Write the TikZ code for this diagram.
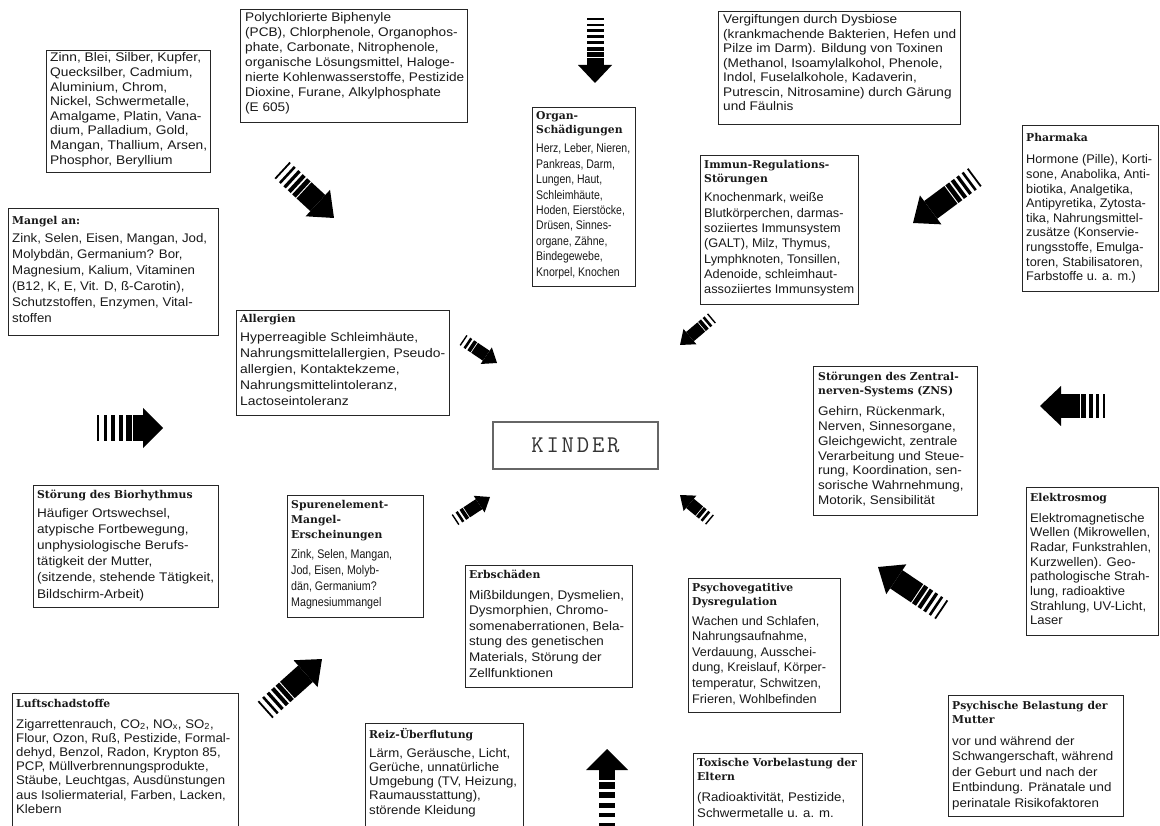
\documentclass[tikz,border=0pt]{standalone}
\usepackage{fontspec}
\usepackage{graphicx}
\setmainfont{Liberation Sans}
\newfontfamily\hfam{DejaVu Serif}
\usetikzlibrary{calc}
\newcommand\vl[1]{\vtop{\let\\\cr\lineskiplimit=-100pt\relax\halign{##\hfil\cr#1\crcr}}}
\newcommand\bodyf[1]{\fontsize{12.5}{#1}\selectfont}
\newcommand\headf[1]{\hfam\bfseries\fontsize{10.8}{#1}\selectfont}
\newcommand\bt[2]{\resizebox{#1pt}{\height}{\vl{#2}}}
\tikzset{
  bx/.style={draw=black!85, line width=0.9pt, inner sep=0pt, anchor=north west, fill=white},
  hd/.style={anchor=base west, inner sep=0pt, text=black!90, font={\headf{14}}},
  bd/.style={anchor=base west, inner sep=0pt, text=black!90},
  arrL/.store in=\arrL, arrHL/.store in=\arrHL, arrHW/.store in=\arrHW,
  arrSW/.store in=\arrSW, arrS/.store in=\arrS, arrN/.store in=\arrN,
  big/.style={arrHL=22, arrHW=18, arrSW=11, arrS=30, arrN=5},
  small/.style={arrHL=13, arrHW=10, arrSW=6, arrS=14, arrN=3},
  sarrow/.pic={
    \pgfmathsetmacro\LL{\arrL}
    \pgfmathsetmacro\hb{\LL-\arrHL}
    \fill[black] (\arrS,-\arrSW) rectangle (\hb,\arrSW);
    \fill[black] (\hb,-\arrHW) -- (\LL,0) -- (\hb,\arrHW) -- cycle;
    \pgfmathtruncatemacro\nm{\arrN-1}
    \pgfmathsetmacro\pp{\arrS/\arrN}
    \foreach \i in {0,...,\nm}{
      \pgfmathsetmacro\aa{\i*\pp}
      \pgfmathsetmacro\bb{\aa+\pp*(0.3+0.5*\i/\nm)}
      \fill[black] (\aa,-\arrSW) rectangle (\bb,\arrSW);
    }
  }
}
\newcommand\sarr[3]{\path let \p1=($(#2)-(#1)$), \n1={atan2(\y1,\x1)}, \n2={veclen(\x1,\y1)} in (#1) pic[rotate=\n1, arrL=\n2, #3] {sarrow};}
\begin{document}
\begin{tikzpicture}[x=1pt, y=-1pt]
\useasboundingbox[fill=white] (0,0) rectangle (1160,826);

% ---------- boxes ----------
\node[bx, minimum width=164, minimum height=122] (metals) at (46,50) {};
\node[bd, font={\bodyf{14.6}}] (metals-b) at ([shift={(4,12)}]metals.north west) {\bt{157}{Zinn, Blei, Silber, Kupfer,\\Quecksilber, Cadmium,\\Aluminium, Chrom,\\Nickel, Schwermetalle,\\Amalgame, Platin, Vana-\\dium, Palladium, Gold,\\Mangan, Thallium, Arsen,\\Phosphor, Beryllium}};

\node[bx, minimum width=227, minimum height=113] (pcb) at (240,9) {};
\node[bd, font={\bodyf{15}}] (pcb-b) at ([shift={(5,13)}]pcb.north west) {\bt{219}{Polychlorierte Biphenyle\\(PCB), Chlorphenole, Organophos-\\phate, Carbonate, Nitrophenole,\\organische Lösungsmittel, Haloge-\\nierte Kohlenwasserstoffe, Pestizide\\Dioxine, Furane, Alkylphosphate\\(E 605)}};

\node[bx, minimum width=103, minimum height=179] (organ) at (532,107) {};
\node[hd] (organ-h) at ([shift={(4,13)}]organ.north west) {\vl{Organ-\\Schädigungen}};
\node[bd, font={\bodyf{15.4}}] (organ-b) at ([shift={(4,46)}]organ.north west) {\bt{94}{Herz, Leber, Nieren,\\Pankreas, Darm,\\Lungen, Haut,\\Schleimhäute,\\Hoden, Eierstöcke,\\Drüsen, Sinnes-\\organe, Zähne,\\Bindegewebe,\\Knorpel, Knochen}};

\node[bx, minimum width=242, minimum height=113] (dysb) at (718,11) {};
\node[bd, font={\bodyf{14.5}}] (dysb-b) at ([shift={(5,13)}]dysb.north west) {\bt{233}{Vergiftungen durch Dysbiose\\(krankmachende Bakterien, Hefen und\\Pilze im Darm). Bildung von Toxinen\\(Methanol, Isoamylalkohol, Phenole,\\Indol, Fuselalkohole, Kadaverin,\\Putrescin, Nitrosamine) durch Gärung\\und Fäulnis}};

\node[bx, minimum width=158, minimum height=149] (immun) at (700,155) {};
\node[hd] (immun-h) at ([shift={(4,14)}]immun.north west) {\vl{Immun-Regulations-\\Störungen}};
\node[bd, font={\bodyf{15.3}}] (immun-b) at ([shift={(4,47)}]immun.north west) {\bt{150}{Knochenmark, weiße\\Blutkörperchen, darmas-\\soziiertes Immunsystem\\(GALT), Milz, Thymus,\\Lymphknoten, Tonsillen,\\Adenoide, schleimhaut-\\assoziiertes Immunsystem}};

\node[bx, minimum width=136, minimum height=166] (pharma) at (1022,125) {};
\node[hd] (pharma-h) at ([shift={(4,17)}]pharma.north west) {\vl{Pharmaka}};
\node[bd, font={\bodyf{14.6}}] (pharma-b) at ([shift={(4,39)}]pharma.north west) {\bt{126}{Hormone (Pille), Korti-\\sone, Anabolika, Anti-\\biotika, Analgetika,\\Antipyretika, Zytosta-\\tika, Nahrungsmittel-\\zusätze (Konservie-\\rungsstoffe, Emulga-\\toren, Stabilisatoren,\\Farbstoffe u. a. m.)}};

\node[bx, minimum width=210, minimum height=127] (mangel) at (8,208) {};
\node[hd] (mangel-h) at ([shift={(4,17)}]mangel.north west) {\vl{Mangel an:}};
\node[bd, font={\bodyf{16}}] (mangel-b) at ([shift={(4,35)}]mangel.north west) {\bt{195}{Zink, Selen, Eisen, Mangan, Jod,\\Molybdän, Germanium? Bor,\\Magnesium, Kalium, Vitaminen\\(B12, K, E, Vit. D, ß-Carotin),\\Schutzstoffen, Enzymen, Vital-\\stoffen}};

\node[bx, minimum width=213, minimum height=105] (allerg) at (236,310) {};
\node[hd] (allerg-h) at ([shift={(4,13)}]allerg.north west) {\vl{Allergien}};
\node[bd, font={\bodyf{16}}] (allerg-b) at ([shift={(4,32)}]allerg.north west) {\bt{205}{Hyperreagible Schleimhäute,\\Nahrungsmittelallergien, Pseudo-\\allergien, Kontaktekzeme,\\Nahrungsmittelintoleranz,\\Lactoseintoleranz}};

\node[bx, minimum width=164, minimum height=149] (zns) at (813,366) {};
\node[hd] (zns-h) at ([shift={(5,15)}]zns.north west) {\vl{Störungen des Zentral-\\nerven-Systems (ZNS)}};
\node[bd, font={\bodyf{14.7}}] (zns-b) at ([shift={(5,50)}]zns.north west) {\bt{146}{Gehirn, Rückenmark,\\Nerven, Sinnesorgane,\\Gleichgewicht, zentrale\\Verarbeitung und Steue-\\rung, Koordination, sen-\\sorische Wahrnehmung,\\Motorik, Sensibilität}};

\node[bx, minimum width=185, minimum height=122] (bio) at (33,485) {};
\node[hd] (bio-h) at ([shift={(4,13)}]bio.north west) {\vl{Störung des Biorhythmus}};
\node[bd, font={\bodyf{16.2}}] (bio-b) at ([shift={(4,32)}]bio.north west) {\bt{177}{Häufiger Ortswechsel,\\atypische Fortbewegung,\\unphysiologische Berufs-\\tätigkeit der Mutter,\\(sitzende, stehende Tätigkeit,\\Bildschirm-Arbeit)}};

\node[bx, minimum width=136, minimum height=122] (spuren) at (287,495) {};
\node[hd, font={\headf{15}}] (spuren-h) at ([shift={(4,13)}]spuren.north west) {\vl{Spurenelement-\\Mangel-\\Erscheinungen}};
\node[bd, font={\bodyf{16.3}}] (spuren-b) at ([shift={(4,63)}]spuren.north west) {\bt{101}{Zink, Selen, Mangan,\\Jod, Eisen, Molyb-\\dän, Germanium?\\Magnesiummangel}};

\node[bx, minimum width=132, minimum height=148] (elektro) at (1026,487) {};
\node[hd] (elektro-h) at ([shift={(4,14)}]elektro.north west) {\vl{Elektrosmog}};
\node[bd, font={\bodyf{14.7}}] (elektro-b) at ([shift={(4,35)}]elektro.north west) {\bt{121}{Elektromagnetische\\Wellen (Mikrowellen,\\Radar, Funkstrahlen,\\Kurzwellen). Geo-\\pathologische Strah-\\lung, radioaktive\\Strahlung, UV-Licht,\\Laser}};

\node[bx, minimum width=167, minimum height=122] (erb) at (465,565) {};
\node[hd] (erb-h) at ([shift={(4,13)}]erb.north west) {\vl{Erbschäden}};
\node[bd, font={\bodyf{15.6}}] (erb-b) at ([shift={(4,34)}]erb.north west) {\bt{155}{Mißbildungen, Dysmelien,\\Dysmorphien, Chromo-\\somenaberrationen, Bela-\\stung des genetischen\\Materials, Störung der\\Zellfunktionen}};

\node[bx, minimum width=152, minimum height=134] (psyveg) at (688,578) {};
\node[hd] (psyveg-h) at ([shift={(4,13)}]psyveg.north west) {\vl{Psychovegatitive\\Dysregulation}};
\node[bd, font={\bodyf{15.6}}] (psyveg-b) at ([shift={(4,47)}]psyveg.north west) {\bt{134}{Wachen und Schlafen,\\Nahrungsaufnahme,\\Verdauung, Ausschei-\\dung, Kreislauf, Körper-\\temperatur, Schwitzen,\\Frieren, Wohlbefinden}};

\node[bx, minimum width=226, minimum height=140] (luft) at (12,693) {};
\node[hd] (luft-h) at ([shift={(4,14)}]luft.north west) {\vl{Luftschadstoffe}};
\node[bd, font={\bodyf{14.2}}] (luft-b) at ([shift={(4,35)}]luft.north west) {\bt{214}{Zigarrettenrauch, CO\textsubscript{2}, NO\textsubscript{x}, SO\textsubscript{2},\\Flour, Ozon, Ruß, Pestizide, Formal-\\dehyd, Benzol, Radon, Krypton 85,\\PCP, Müllverbrennungsprodukte,\\Stäube, Leuchtgas, Ausdünstungen\\aus Isoliermaterial, Farben, Lacken,\\Klebern}};

\node[bx, minimum width=175, minimum height=121] (psych) at (948,695) {};
\node[hd] (psych-h) at ([shift={(4,14)}]psych.north west) {\vl{Psychische Belastung der\\Mutter}};
\node[bd, font={\bodyf{15.5}}] (psych-b) at ([shift={(4,50)}]psych.north west) {\bt{161}{vor und während der\\Schwangerschaft, während\\der Geburt und nach der\\Entbindung. Pränatale und\\perinatale Risikofaktoren}};

\node[bx, minimum width=158, minimum height=110] (reiz) at (365,723) {};
\node[hd] (reiz-h) at ([shift={(4,15)}]reiz.north west) {\vl{Reiz-Überflutung}};
\node[bd, font={\bodyf{14.3}}] (reiz-b) at ([shift={(4,34)}]reiz.north west) {\bt{148}{Lärm, Geräusche, Licht,\\Gerüche, unnatürliche\\Umgebung (TV, Heizung,\\Raumausstattung),\\störende Kleidung}};

\node[bx, minimum width=169, minimum height=80] (tox) at (693,753) {};
\node[hd] (tox-h) at ([shift={(4,13)}]tox.north west) {\vl{Toxische Vorbelastung der\\Eltern}};
\node[bd, font={\bodyf{16}}] (tox-b) at ([shift={(4,48)}]tox.north west) {\bt{148}{(Radioaktivität, Pestizide,\\Schwermetalle u. a. m.}};

% ---------- centre ----------
\node[draw=black!60, line width=1.3pt, minimum width=165, minimum height=47, inner sep=0pt, text=black!80, font=\ttfamily\fontsize{24}{24}\selectfont] (kinder) at (575.5,445.5) {K\kern2.8pt I\kern2.8pt N\kern2.8pt D\kern2.8pt E\kern2.8pt R};

% ---------- arrows ----------
\coordinate (a1t) at (595,18);  \coordinate (a1h) at (595,83);
\coordinate (a2t) at (282,170); \coordinate (a2h) at (334,218);
\coordinate (a3t) at (975,177); \coordinate (a3h) at (913,223);
\coordinate (a4t) at (97,428);  \coordinate (a4h) at (163,428);
\coordinate (a5t) at (1105,406);\coordinate (a5h) at (1040,406);
\coordinate (a6t) at (265,710); \coordinate (a6h) at (322,659);
\coordinate (a7t) at (942,610); \coordinate (a7h) at (878,567);
\coordinate (a8t) at (607,826); \coordinate (a8h) at (607,749);
\coordinate (s1t) at (463,340); \coordinate (s1h) at (497,363);
\coordinate (s2t) at (712,318); \coordinate (s2h) at (680,345);
\coordinate (s3t) at (455,520); \coordinate (s3h) at (490,497);
\coordinate (s4t) at (710,520); \coordinate (s4h) at (680,495);

\sarr{a1t}{a1h}{arrHL=18, arrHW=17, arrSW=8.5, arrS=40, arrN=7}
\sarr{a2t}{a2h}{big}
\sarr{a3t}{a3h}{big}
\sarr{a4t}{a4h}{arrHL=20, arrHW=20, arrSW=12.5, arrS=36, arrN=5}
\sarr{a5t}{a5h}{arrHL=21, arrHW=20, arrSW=11.5, arrS=25, arrN=4}
\sarr{a6t}{a6h}{big}
\sarr{a7t}{a7h}{big}
\sarr{a8t}{a8h}{arrHL=21, arrHW=21, arrSW=8, arrS=46, arrN=5}
\sarr{s1t}{s1h}{small}
\sarr{s2t}{s2h}{small}
\sarr{s3t}{s3h}{small}
\sarr{s4t}{s4h}{small}
\end{tikzpicture}
\end{document}
